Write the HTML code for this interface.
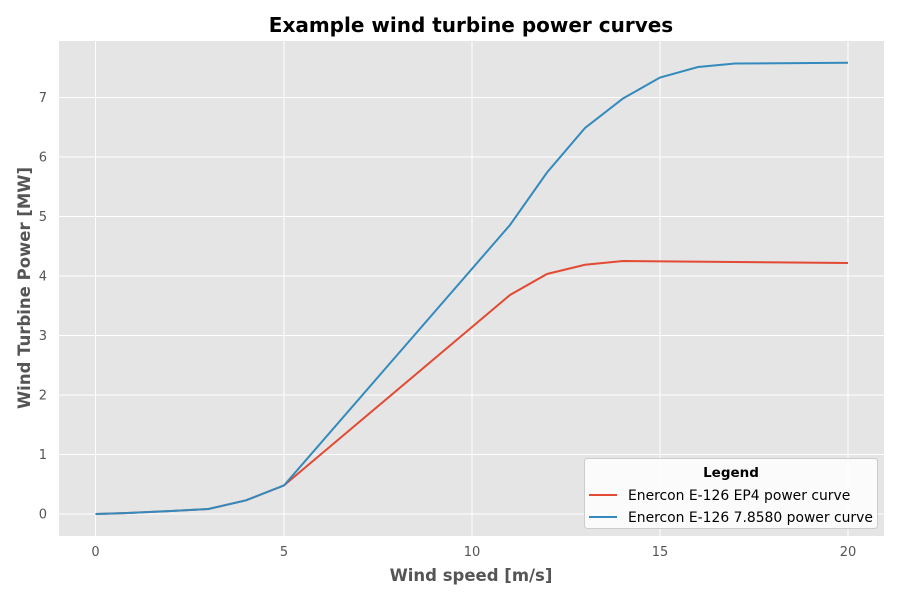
<!DOCTYPE html>
<html><head><meta charset="utf-8"><style>
body{margin:0;background:#fff;}
svg text{font-family:"DejaVu Sans","Liberation Sans",sans-serif;}
</style></head><body>
<svg width="900" height="600" viewBox="0 0 900 600" xmlns="http://www.w3.org/2000/svg">
<rect width="900" height="600" fill="#fff"/>
<rect x="59" y="41" width="825" height="495" fill="#e5e5e5"/>
<g stroke="#fff" stroke-width="1">
<line x1="95.5" y1="41" x2="95.5" y2="536"/>
<line x1="284" y1="41" x2="284" y2="536"/>
<line x1="472" y1="41" x2="472" y2="536"/>
<line x1="660" y1="41" x2="660" y2="536"/>
<line x1="848" y1="41" x2="848" y2="536"/>
<line x1="59" y1="514" x2="884" y2="514"/>
<line x1="59" y1="454.5" x2="884" y2="454.5"/>
<line x1="59" y1="395" x2="884" y2="395"/>
<line x1="59" y1="335.5" x2="884" y2="335.5"/>
<line x1="59" y1="276" x2="884" y2="276"/>
<line x1="59" y1="216.5" x2="884" y2="216.5"/>
<line x1="59" y1="157" x2="884" y2="157"/>
<line x1="59" y1="97.5" x2="884" y2="97.5"/>
</g>
<g font-size="13" fill="#555" text-anchor="middle">
<text x="95.5" y="556">0</text><text x="284" y="556">5</text><text x="472" y="556">10</text><text x="660" y="556">15</text><text x="848" y="556">20</text>
</g>
<g font-size="13" fill="#555" text-anchor="end">
<text x="47" y="518.5">0</text><text x="47" y="459">1</text><text x="47" y="399.5">2</text><text x="47" y="340">3</text><text x="47" y="280.5">4</text><text x="47" y="221">5</text><text x="47" y="161.5">6</text><text x="47" y="102">7</text>
</g>
<text x="471" y="581" font-size="16.5" font-weight="bold" fill="#555" text-anchor="middle">Wind speed [m/s]</text>
<text transform="translate(30,288) rotate(-90)" font-size="16.5" font-weight="bold" fill="#555" text-anchor="middle">Wind Turbine Power [MW]</text>
<text x="471" y="32" font-size="20" font-weight="bold" fill="#000" text-anchor="middle">Example wind turbine power curves</text>
<polyline fill="none" stroke="#e24a33" stroke-width="2" points="95.5,514 133,512.8 171,511 208.5,509 246,500.3 284,485.4 510,295 547,274 585,264.8 623,261 848,263"/>
<polyline fill="none" stroke="#348abd" stroke-width="2" points="95.5,514 133,512.8 171,511 208.5,509 246,500.3 284,485.4 510,225 547,172.5 585,128 623,98.5 660,77.5 698,67 735,63.5 848,62.8"/>
<rect x="584.5" y="458.5" width="293" height="70" rx="3" fill="#fff" fill-opacity="0.85" stroke="#ccc"/>
<text x="731" y="477" font-size="13.5" font-weight="bold" fill="#000" text-anchor="middle">Legend</text>
<line x1="589" y1="495" x2="617" y2="495" stroke="#e24a33" stroke-width="2"/>
<text x="628" y="500" font-size="13.9" fill="#000">Enercon E-126 EP4 power curve</text>
<line x1="589" y1="517" x2="617" y2="517" stroke="#348abd" stroke-width="2"/>
<text x="628" y="522" font-size="13.9" fill="#000">Enercon E-126 7.8580 power curve</text>
</svg>
</body></html>
